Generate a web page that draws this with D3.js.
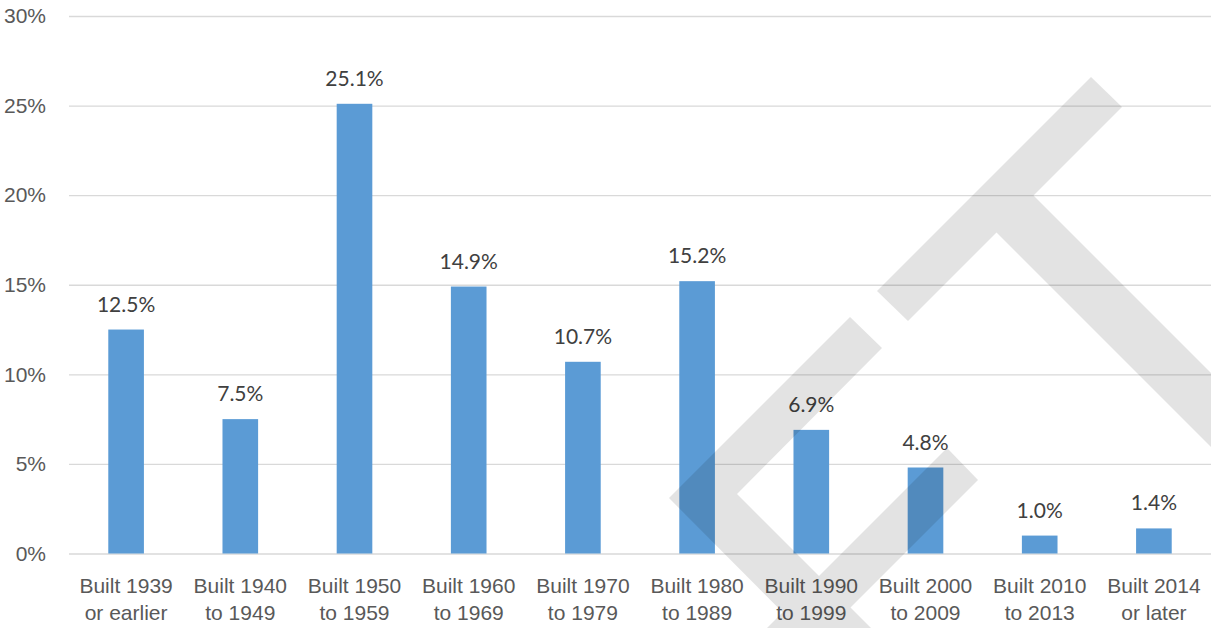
<!DOCTYPE html>
<html>
<head>
<meta charset="utf-8">
<script src="https://cdn.jsdelivr.net/npm/d3@7"></script>
<style>
  body { margin: 0; background: #fff; }
  svg { display: block; font-family: Lato, "Open Sans", sans-serif; }
</style>
</head>
<body>
<svg id="chart"></svg>
<script>
// chart data
const categories = [
  "Built 1939 or earlier", "Built 1940 to 1949", "Built 1950 to 1959",
  "Built 1960 to 1969", "Built 1970 to 1979", "Built 1980 to 1989",
  "Built 1990 to 1999", "Built 2000 to 2009", "Built 2010 to 2013",
  "Built 2014 or later"
]
const shares = [12.5, 7.5, 25.1, 14.9, 10.7, 15.2, 6.9, 4.8, 1.0, 1.4]
const yTicks = [0, 5, 10, 15, 20, 25, 30]

// grey watermark drawn over the chart (decoration, not data)
const watermark = [
  [[1091, 77], [1122, 107], [908, 321], [877, 291]],
  [[1030, 192], [1250, 412], [1250, 486], [993, 229]],
  [[850, 317], [882, 348], [737, 494], [903, 660], [830, 660], [669, 498]],
  [[947, 448], [978, 480], [798, 660], [735, 660]]
]

const W = 1211, H = 628
const margin = {top: 16, right: 0, bottom: 74.5, left: 69}
const width = W - margin.left - margin.right
const height = H - margin.top - margin.bottom

const svg = d3.select("#chart").attr("width", W).attr("height", H)
const g = svg.append("g")
  .attr("transform", "translate(" + margin.left + "," + margin.top + ")")

const x = d3.scaleBand().domain(categories).range([0, width])
  .paddingInner(0.688).paddingOuter(0.344)
const y = d3.scaleLinear().domain([0, 30]).range([height, 0])

// gridlines + y labels
const gy = g.append("g")
  .call(d3.axisLeft(y).tickValues(yTicks).tickSize(-width).tickPadding(23)
    .tickFormat(d => d + "%"))
gy.select(".domain").remove()
gy.selectAll(".tick line").attr("stroke", "#d9d9d9").attr("stroke-width", 1.3)
gy.selectAll(".tick text").attr("fill", "#595959").attr("font-size", 21)

// bars
g.selectAll(".bar")
  .data(shares)
  .join("rect")
  .attr("class", "bar")
  .attr("x", (d, i) => x(categories[i]))
  .attr("width", x.bandwidth())
  .attr("y", d => y(d))
  .attr("height", d => height - y(d))
  .attr("fill", "#5b9bd5")

// value labels
g.selectAll(".val")
  .data(shares)
  .join("text")
  .attr("class", "val")
  .attr("x", (d, i) => x(categories[i]) + x.bandwidth() / 2)
  .attr("y", d => y(d) - 18)
  .attr("text-anchor", "middle")
  .attr("font-size", 21)
  .attr("fill", "#404040")
  .text(d => d.toFixed(1) + "%")

// category labels, two lines each
const gx = g.append("g")
  .attr("transform", "translate(0," + height + ")")
  .call(d3.axisBottom(x).tickSize(0).tickFormat(""))
gx.select(".domain").remove()
gx.selectAll(".tick").each(function (d) {
  const words = d.split(" ")
  const t = d3.select(this).select("text")
    .attr("y", 0).attr("dy", null)
    .attr("font-size", 21).attr("fill", "#595959")
  t.append("tspan").attr("x", 0).attr("y", 39.5).text(words.slice(0, 2).join(" "))
  t.append("tspan").attr("x", 0).attr("y", 66.5).text(words.slice(2).join(" "))
})

// watermark
svg.append("g")
  .attr("opacity", 0.105)
  .selectAll("path")
  .data(watermark)
  .join("path")
  .attr("d", d => "M" + d.join("L") + "Z")
  .attr("fill", "#000")
</script>
</body>
</html>
